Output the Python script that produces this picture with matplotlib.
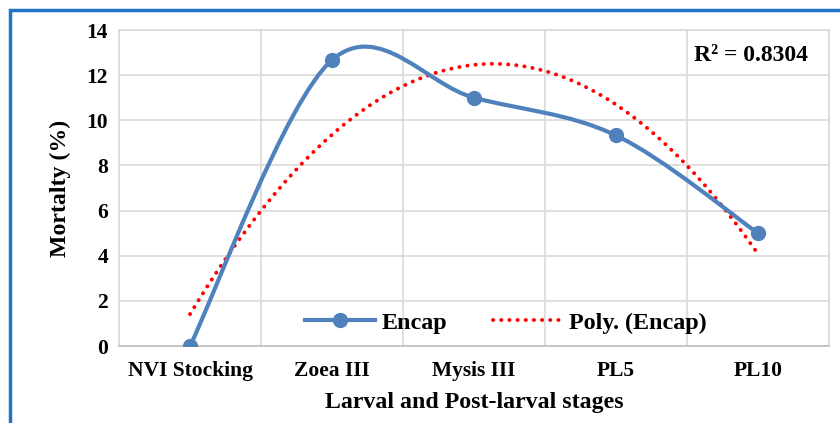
import numpy as np
import matplotlib
matplotlib.use('Agg')
import matplotlib.pyplot as plt
from matplotlib.path import Path
from matplotlib.patches import PathPatch, Rectangle
from matplotlib.lines import Line2D

plt.rcParams['font.family'] = ['Liberation Serif', 'DejaVu Serif']
plt.rcParams['font.weight'] = 'bold'
plt.rcParams['axes.labelweight'] = 'bold'

stages = ['NVI Stocking', 'Zoea III', 'Mysis III', 'PL5', 'PL10']
mortality = [0, 12.67, 11, 9.33, 5]
r2_text = 'R² = 0.8304'

line_color = '#4F81BD'
trend_color = '#FF0000'
grid_color = '#D9D9D9'


def smooth_path(xs, ys):
    # excel style smoothing: cubic bezier with catmull-rom control points
    pts = np.column_stack([xs, ys]).astype(float)
    n = len(pts)
    verts = [pts[0]]
    codes = [Path.MOVETO]
    for i in range(n - 1):
        p0 = pts[i - 1] if i > 0 else pts[i]
        p1 = pts[i]
        p2 = pts[i + 1]
        p3 = pts[i + 2] if i + 2 < n else pts[i + 1]
        c1 = p1 + (p2 - p0) / 6.0
        c2 = p2 - (p3 - p1) / 6.0
        verts += [c1, c2, p2]
        codes += [Path.CURVE4] * 3
    return Path(verts, codes)


fig = plt.figure(figsize=(8.4, 4.23), dpi=100)
ax = fig.add_axes([119 / 840, 1 - 346 / 423, (829 - 119) / 840, (346 - 30) / 423])

x = np.arange(1, len(stages) + 1)
y = np.array(mortality)

# smoothed data line
ax.add_patch(PathPatch(smooth_path(x, y), facecolor='none', edgecolor=line_color,
                       lw=3, zorder=3, capstyle='round'))
ax.plot(x, y, 'o', color=line_color, ms=10, zorder=4)

# 2nd order polynomial trendline
dots = (0, (0.05, 2.05))
coef = np.polyfit(x, y, 2)
xt = np.linspace(1, 5, 200)
ax.plot(xt, np.polyval(coef, xt), color=trend_color, lw=2.8, ls=dots,
        dash_capstyle='round', zorder=2)

ax.set_xlim(0.5, 5.5)
ax.set_ylim(0, 14)
ax.set_yticks(np.arange(0, 15, 2))
ax.set_xticks(x)
ax.set_xticklabels(stages)
ax.set_xticks(np.arange(0.5, 6, 1), minor=True)
ax.tick_params(axis='both', which='both', length=0, labelsize=15.5)
ax.tick_params(axis='x', pad=11)
ax.tick_params(axis='y', pad=8)
ax.grid(axis='y', color=grid_color, lw=1.2)
ax.grid(axis='x', which='minor', color=grid_color, lw=1.2)
ax.set_axisbelow(True)
for side in ['top', 'right', 'left']:
    ax.spines[side].set_color(grid_color)
    ax.spines[side].set_linewidth(1.2)
ax.spines['bottom'].set_color('#BFBFBF')
ax.spines['bottom'].set_linewidth(1.2)

ax.set_ylabel('Mortalty (%)', fontsize=17.2, labelpad=11)
ax.set_xlabel('Larval and Post-larval stages', fontsize=17.2, labelpad=8)

ax.text(0.97, 0.92, r2_text, transform=ax.transAxes, ha='right', va='center',
        fontsize=17)

handles = [Line2D([], [], color=line_color, lw=3, marker='o', ms=10),
           Line2D([], [], color=trend_color, lw=2.8, ls=dots, dash_capstyle='round')]
ax.legend(handles, ['Encap', 'Poly. (Encap)'], loc='center',
          bbox_to_anchor=(0.545, 0.073), ncol=2, frameon=False, fontsize=17.4,
          handlelength=2.9, columnspacing=1.9, handletextpad=0.25,
          borderpad=0, borderaxespad=0)

# blue chart border
fig.patches.append(Rectangle((10 / 840, -0.05), 1.1, 1 - 10 / 423 + 0.05,
                             transform=fig.transFigure, fill=False,
                             edgecolor='#1F74C4', lw=2.5, clip_on=False))

fig.savefig('out.png', dpi=100)
